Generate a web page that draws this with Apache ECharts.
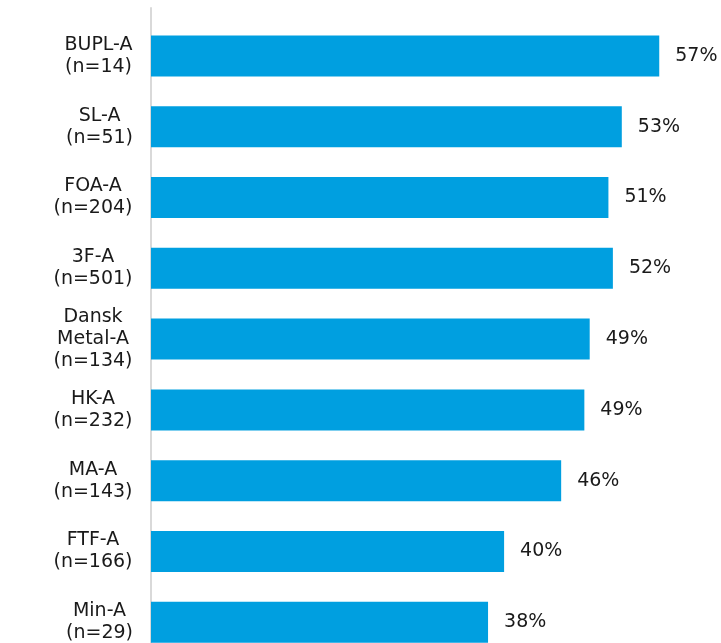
<!DOCTYPE html>
<html>
<head>
<meta charset="utf-8">
<script src="https://cdn.jsdelivr.net/npm/echarts@6/dist/echarts.min.js"></script>
<style>
html,body{margin:0;padding:0;background:#fff;}
#chart{width:721px;height:643px;}
</style>
</head>
<body>
<div id="chart"></div>
<script>
var categories = ["BUPL-A\n(n=14)", "SL-A\n(n=51)", "FOA-A\n(n=204)", "3F-A\n(n=501)", "Dansk\nMetal-A\n(n=134)", "HK-A\n(n=232)", "MA-A\n(n=143)", "FTF-A\n(n=166)", "Min-A\n(n=29)"];
var values = [57.0, 52.8, 51.3, 51.8, 49.2, 48.6, 46.0, 39.6, 37.8];

var font = "'DejaVu Sans', Verdana, sans-serif";
var fontSize = 19;

// per-label rich styles so every line is centred within its block
var ctx = document.createElement('canvas').getContext('2d');
ctx.font = fontSize + 'px ' + font;
var rich = {};
var blockIndex = {};
categories.forEach(function (c, i) {
  var w = 0;
  c.split('\n').forEach(function (l) { w = Math.max(w, ctx.measureText(l).width); });
  rich['c' + i] = {width: Math.ceil(w), align: 'center', fontFamily: font, fontSize: fontSize, lineHeight: 22, color: '#1a1a1a'};
  blockIndex[c] = i;
});

var chart = echarts.init(document.getElementById('chart'));
chart.setOption({
  animation: false,
  backgroundColor: '#ffffff',
  grid: [
    {left: 151, right: 35, top: 20.5, height: 637.2, outerBoundsMode: 'none', containLabel: false},
    {left: 151, width: 1, top: 8, height: 660, outerBoundsMode: 'none'}
  ],
  xAxis: [
    {type: 'value', min: 0, max: 60, show: false, gridIndex: 0},
    {type: 'value', show: false, gridIndex: 1}
  ],
  yAxis: [
    {
      type: 'category', data: categories, inverse: true, gridIndex: 0,
      axisLine: {show: false}, axisTick: {show: false},
      axisLabel: {
        margin: 18, color: '#1a1a1a', fontFamily: font, fontSize: fontSize, lineHeight: 22, align: 'right',
        rich: rich,
        formatter: function (v) {
          var i = blockIndex[v];
          return v.split('\n').map(function (l) { return '{c' + i + '|' + l + '}'; }).join('\n');
        }
      }
    },
    {
      type: 'category', data: [], gridIndex: 1,
      axisLine: {show: true, lineStyle: {color: '#d9d9d9', width: 2}},
      axisTick: {show: false}, axisLabel: {show: false}
    }
  ],
  series: [{
    type: 'bar', data: values, barWidth: 41,
    xAxisIndex: 0, yAxisIndex: 0,
    itemStyle: {color: '#009fe0'},
    label: {
      show: true, position: 'right', distance: 16,
      color: '#1a1a1a', fontFamily: font, fontSize: fontSize,
      formatter: function (p) { return Math.round(p.value) + '%'; }
    }
  }]
});
</script>
</body>
</html>
